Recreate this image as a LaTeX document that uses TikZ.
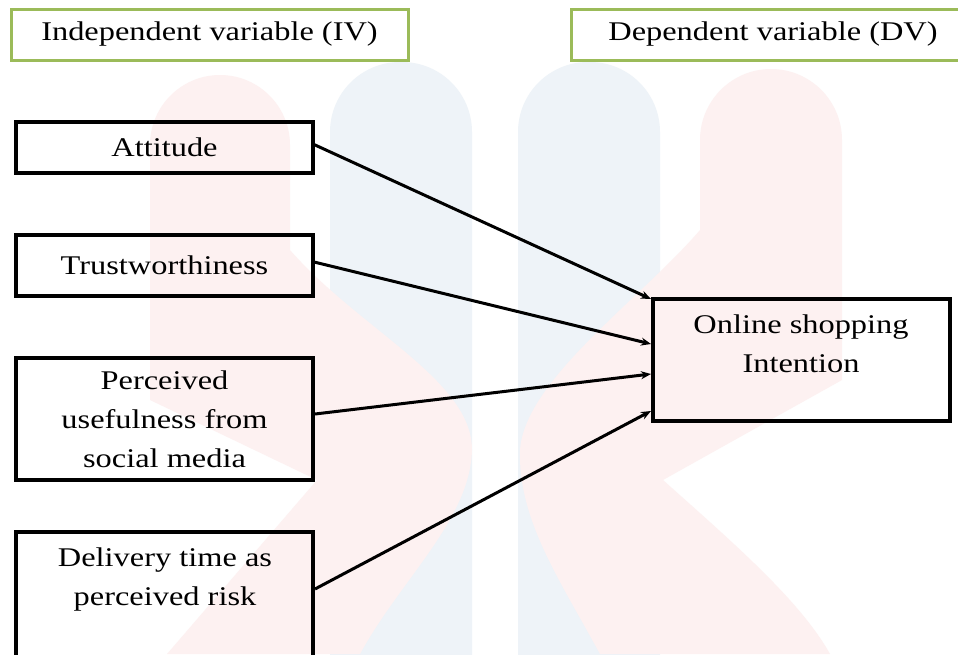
\documentclass[tikz,border=0pt]{standalone}
\usepackage{fontspec}
\setmainfont{Liberation Serif}[FakeStretch=1.2]
\usetikzlibrary{arrows.meta,calc}
\definecolor{wmpink}{RGB}{253,241,241}
\definecolor{wmblue}{RGB}{238,243,248}
\definecolor{hdrgreen}{RGB}{155,187,89}
\tikzset{
  hdr/.style={draw=hdrgreen, line width=3pt, inner sep=0pt, outer sep=0pt, anchor=north west},
  ivbox/.style={draw=black, line width=4.5pt, inner sep=0pt, outer sep=0pt, anchor=north west, align=center},
  lbl/.style={inner sep=0pt, align=center},
  link/.style={line width=3pt, -{Stealth[length=10pt,width=8pt]}}
}
\begin{document}
\begin{tikzpicture}[x=1pt,y=-1pt,font=\fontsize{27}{39}\selectfont]
\useasboundingbox[fill=white] (0,0) rectangle (958,654);
% watermark
\fill[wmblue,rounded corners=70pt] (330,62) rectangle (472,760);
\fill[wmblue,rounded corners=70pt] (518,62) rectangle (660,760);
\fill[wmpink] (150,145) arc[start angle=180,end angle=360,radius=70] -- (290,250)
  .. controls (360,330) and (472,380) .. (472,450)
  .. controls (470,520) and (400,580) .. (360,654) -- (167,654) -- (317,480) -- (150,400) -- cycle;
\fill[wmpink] (700,140) arc[start angle=180,end angle=360,radius=71] -- (842,380) -- (663,480)
  .. controls (730,540) and (800,600) .. (830,654) -- (600,654)
  .. controls (560,580) and (518,520) .. (520,450)
  .. controls (525,380) and (640,300) .. (700,230) -- cycle;
% headers
\node[hdr, minimum width=397pt, minimum height=51pt] (iv) at (11,9) {Independent variable (IV)};
\node[hdr, minimum width=404pt, minimum height=51pt] (dv) at (571,9) {Dependent variable (DV)};
% IV boxes
\node[ivbox, minimum width=297pt, minimum height=51pt] (att) at (16,122) {Attitude};
\node[ivbox, minimum width=297pt, minimum height=61pt] (tru) at (16,235) {Trustworthiness};
\node[ivbox, minimum width=297pt, minimum height=122pt] (per) at (16,358) {Perceived\\usefulness from\\social media};
\node[ivbox, minimum width=297pt, minimum height=150pt] (del) at (16,532) {};
\node[lbl] (deltxt) at (165,579) {Delivery time as\\perceived risk};
% DV box
\node[ivbox, minimum width=297pt, minimum height=122pt] (onl) at (653,299) {};
\node[lbl] (onltxt) at (801,344) {Online shopping\\Intention};
% connectors
\draw[link] ($(att.east)+(1,-3)$) -- ($(onl.north west)+(-2,0)$);
\draw[link] ($(tru.east)+(-1,-4)$) -- ($(onl.north west)+(-2,45)$);
\draw[link] ($(per.east)+(2,-5)$) -- ($(onl.north west)+(-2,75)$);
\draw[link] ($(del.north east)+(2,57)$) -- ($(onl.north west)+(-2,112)$);
\end{tikzpicture}
\end{document}
